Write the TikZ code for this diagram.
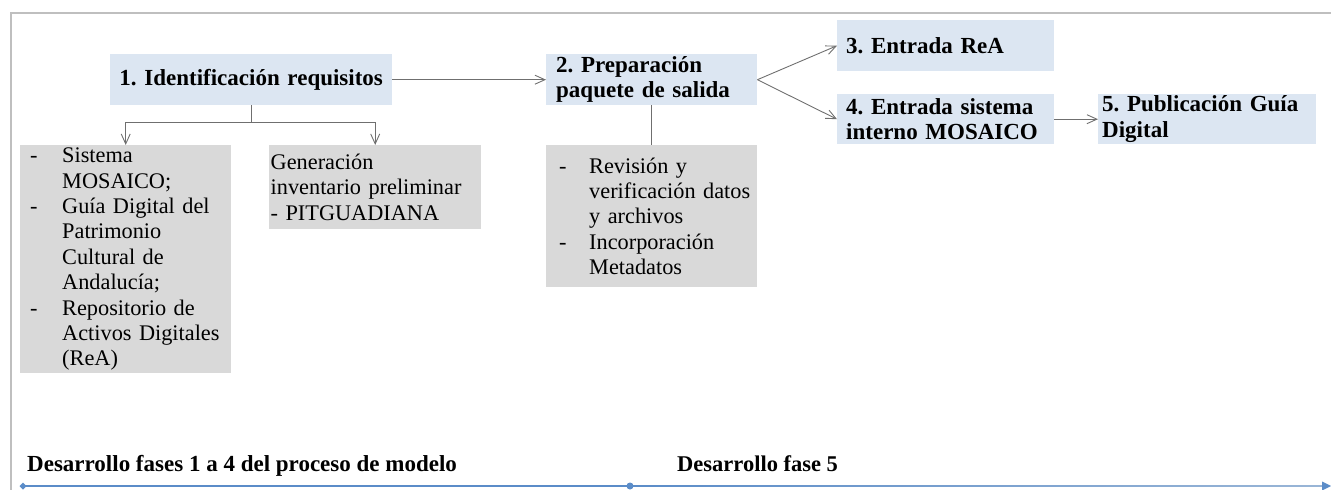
\documentclass[tikz,border=0pt]{standalone}
\usepackage{fontspec}
\setmainfont{Liberation Serif}
\usetikzlibrary{arrows.meta}
\definecolor{bluebox}{HTML}{DCE6F2}
\definecolor{graybox}{HTML}{D9D9D9}
\definecolor{framecol}{HTML}{BFBFBF}
\definecolor{conncol}{HTML}{6F6F6F}
\definecolor{tline}{HTML}{5B8CC8}
\definecolor{tlinetwo}{HTML}{A9C0DA}
\newcommand\myitem[1]{\makebox[#1][l]{-}}
\newcommand\myind[1]{\hspace*{#1}}
\frenchspacing
\begin{document}
\begin{tikzpicture}[x=1pt,y=-1pt,
  bbox/.style={fill=bluebox, anchor=north west, inner ysep=0pt,
    font=\fontsize{23}{25.4}\selectfont\bfseries\frenchspacing, align=left},
  gbox/.style={fill=graybox, anchor=north west, inner ysep=0pt,
    font=\fontsize{22.3}{25.4}\selectfont\frenchspacing, align=left},
  conn/.style={draw=conncol, line width=0.9pt},
  arr/.style={conn, -{Straight Barb[length=10pt,width=9pt]}},
  framestyle/.style={draw=framecol, line width=2.4pt},
  lbl/.style={anchor=base west, inner sep=0pt, font=\fontsize{23}{26}\selectfont\bfseries},
]
\useasboundingbox (0,0) rectangle (1331,490);

% frame
\draw[framestyle] (11,490) -- (11,13) -- (1331,13);

% blue boxes
\node[bbox, align=center, text width=266pt, inner xsep=8pt, minimum height=51pt] (b1) at (110,54) {1. Identificación requisitos};
\node[bbox, text width=191pt, inner xsep=10pt, minimum height=51pt] (b2) at (546,54) {2. Preparación\\paquete de salida};
\node[bbox, text width=199pt, inner xsep=9pt, minimum height=51pt] (b3) at (837,20) {3. Entrada ReA};
\node[bbox, text width=199pt, inner xsep=9pt, minimum height=50pt] (b4) at (837,94) {4. Entrada sistema\\interno MOSAICO};
\node[bbox, text width=210pt, inner xsep=4pt, minimum height=50pt] (b5) at (1098,94) {5. Publicación Guía\\Digital};

% gray boxes
\node[gbox, text width=203pt, inner xsep=4pt, minimum height=228pt] (gA) at (20,145)
  {\myind{6pt}\myitem{32pt}Sistema\\ \myind{38pt}MOSAICO;\\ \myind{6pt}\myitem{32pt}Guía Digital del\\ \myind{38pt}Patrimonio\\ \myind{38pt}Cultural de\\ \myind{38pt}Andalucía;\\ \myind{6pt}\myitem{32pt}Repositorio de\\ \myind{38pt}Activos Digitales\\ \myind{38pt}(ReA)};
\node[gbox, text width=209pt, inner xsep=1.5pt, minimum height=84pt] (gB) at (269,145)
  {Generación\\inventario preliminar\\- PITGUADIANA};
\node[gbox, text width=203pt, inner xsep=4pt, minimum height=142pt] (gC) at (546,145)
  {\myind{9pt}\myitem{30pt}Revisión y\\ \myind{39pt}verificación datos\\ \myind{39pt}y archivos\\ \myind{9pt}\myitem{30pt}Incorporación\\ \myind{39pt}Metadatos};

% connectors
\draw[arr] (b1.south) -- ++(0,17) -| (gA.north);
\draw[arr] (b1.south) -- ++(0,17) -| (gB.north);
\draw[arr] (b1.east) -- (b2.west);
\draw[conn] (b2.south) -- (gC.north);
\draw[arr] (b2.east) -- (b3.west);
\draw[arr] (b2.east) -- (b4.west);
\draw[arr] (b4.east) -- (b5.west);

% timeline
\coordinate (t0) at (23,486);
\coordinate (t1) at (630,486);
\coordinate (t2) at (1331,486);
\draw[tline, line width=1.2pt] (t0) -- (t1);
\shade[left color=tline, right color=tlinetwo!80!tline] (630,485.4) rectangle (1324,486.6);
\fill[tline] (t0) ++(-3.5,0) -- ++(3.5,-3.5) -- ++(3.5,3.5) -- ++(-3.5,3.5) -- cycle;
\fill[tline] (t1) circle (3.5pt);
\fill[tline] (t2) -- ++(-9,-4.5) -- ++(0,9) -- cycle;

\node[lbl] (l1) at (27,471) {Desarrollo fases 1 a 4 del proceso de modelo};
\node[lbl, font=\fontsize{22.5}{26}\selectfont\bfseries] (l2) at (677,471) {Desarrollo fase 5};
\end{tikzpicture}
\end{document}
